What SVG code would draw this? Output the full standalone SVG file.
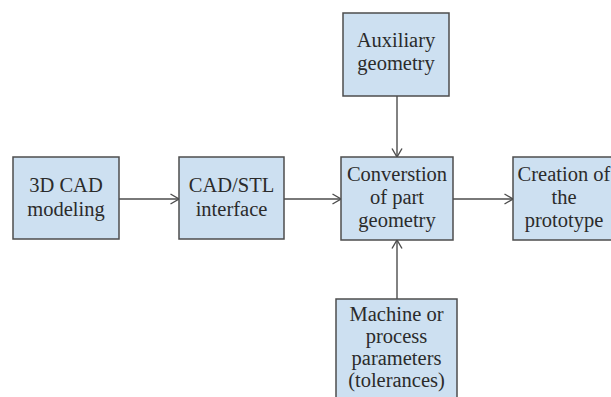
<svg xmlns="http://www.w3.org/2000/svg" width="611" height="397" viewBox="0 0 611 397">
  <style>
    .box { fill: #cde0f1; stroke: #4d4d4d; stroke-width: 1.5; }
    .lbl { font-family: 'Liberation Serif', 'DejaVu Serif', serif; font-size: 20.5px; fill: #2b2b2b; text-anchor: middle; }
    .edge { fill: none; stroke: #4d4d4d; stroke-width: 1.4; marker-end: url(#arrow); }
  </style>
  <defs>
    <marker id="arrow" viewBox="0 0 10 12" refX="9.5" refY="6" markerWidth="10" markerHeight="12" markerUnits="userSpaceOnUse" orient="auto">
      <path d="M1,1 L9.5,6 L1,11" fill="none" stroke="#4d4d4d" stroke-width="1.4"/>
    </marker>
  </defs>
  <rect width="611" height="397" fill="#ffffff"/>

  <g id="connectors">
    <line class="edge" x1="119" y1="199" x2="179" y2="199"/>
    <line class="edge" x1="284" y1="199" x2="341" y2="199"/>
    <line class="edge" x1="453" y1="199" x2="513" y2="199"/>
    <line class="edge" x1="397" y1="96" x2="397" y2="157"/>
    <line class="edge" x1="397" y1="299" x2="397" y2="240"/>
  </g>

  <g id="cad-modeling">
    <rect class="box" x="13" y="157" width="106" height="82"/>
    <text class="lbl" font-family="Liberation Serif, serif" x="66" y="192">3D CAD</text>
    <text class="lbl" font-family="Liberation Serif, serif" x="66" y="216">modeling</text>
  </g>

  <g id="cad-stl">
    <rect class="box" x="179" y="157" width="105" height="82"/>
    <text class="lbl" font-family="Liberation Serif, serif" x="231.5" y="192">CAD/STL</text>
    <text class="lbl" font-family="Liberation Serif, serif" x="231.5" y="216">interface</text>
  </g>

  <g id="auxiliary">
    <rect class="box" x="343" y="13" width="106" height="83"/>
    <text class="lbl" font-family="Liberation Serif, serif" x="396" y="47">Auxiliary</text>
    <text class="lbl" font-family="Liberation Serif, serif" x="396" y="70">geometry</text>
  </g>

  <g id="conversion">
    <rect class="box" x="341" y="157" width="112" height="83"/>
    <text class="lbl" font-family="Liberation Serif, serif" x="397" y="181">Converstion</text>
    <text class="lbl" font-family="Liberation Serif, serif" x="397" y="204">of part</text>
    <text class="lbl" font-family="Liberation Serif, serif" x="397" y="227">geometry</text>
  </g>

  <g id="prototype">
    <rect class="box" x="513" y="157" width="106" height="83"/>
    <text class="lbl" font-family="Liberation Serif, serif" x="564" y="181">Creation of</text>
    <text class="lbl" font-family="Liberation Serif, serif" x="564" y="204">the</text>
    <text class="lbl" font-family="Liberation Serif, serif" x="564" y="227">prototype</text>
  </g>

  <g id="machine">
    <rect class="box" x="336" y="299" width="121" height="110"/>
    <text class="lbl" font-family="Liberation Serif, serif" x="396.5" y="321">Machine or</text>
    <text class="lbl" font-family="Liberation Serif, serif" x="396.5" y="343">process</text>
    <text class="lbl" font-family="Liberation Serif, serif" x="396.5" y="365">parameters</text>
    <text class="lbl" font-family="Liberation Serif, serif" x="396.5" y="387">(tolerances)</text>
  </g>
</svg>
